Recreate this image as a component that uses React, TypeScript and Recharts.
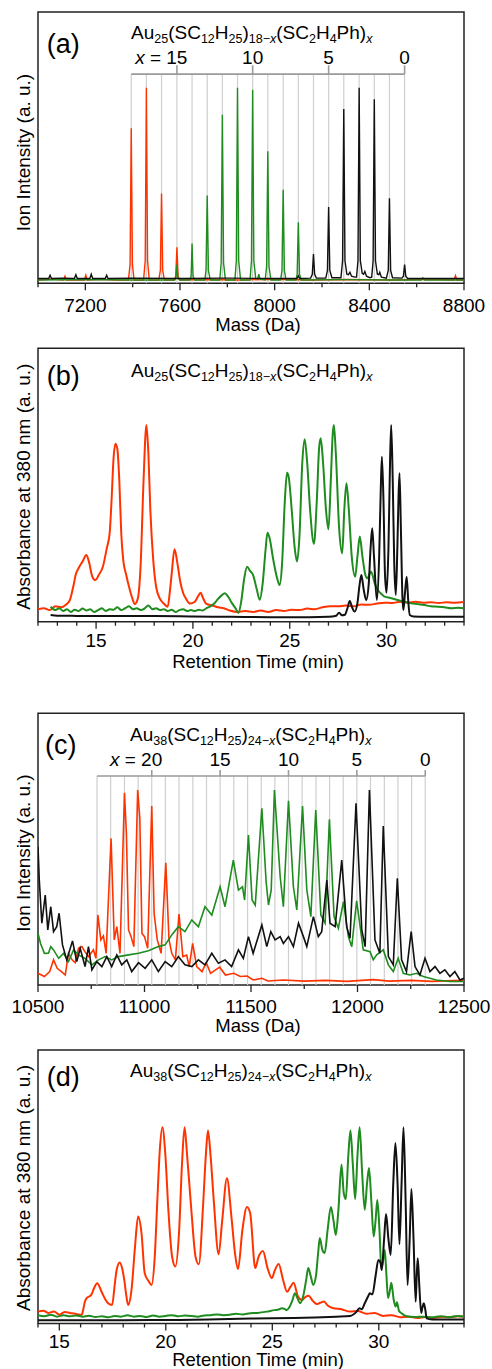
import { LineChart, Line, XAxis, YAxis, ReferenceLine, ReferenceArea, ReferenceDot } from "recharts"

const RED = "#ff3300"
const GREEN = "#1e8c1e"
const BLACK = "#111111"
const FONT = "'Liberation Sans', Arial, Helvetica, sans-serif"
const W = 492

// ---- (a) Au25 mass spectra: [mass (Da), intensity] ----
const aRed: [number, number][] = [
  [7000, 0], [7060, 0.005], [7108, 0], [7114, 0.02], [7120, 0], [7196, 0], [7202, 0.025], [7208, 0],
  [7260, 0.004], [7330, 0], [7382, 0], [7389, 0.08], [7394, 0.79], [7399, 0.08], [7406, 0],
  [7446, 0], [7453, 0.1], [7458, 1.0], [7463, 0.1], [7470, 0], [7510, 0], [7517, 0.05], [7522, 0.45],
  [7527, 0.05], [7534, 0], [7575, 0], [7582, 0.02], [7587, 0.17], [7592, 0.02], [7600, 0],
  [7700, 0.003], [7850, 0], [8000, 0.004], [8150, 0], [8300, 0.003], [8500, 0], [8650, 0.004],
  [8758, 0], [8764, 0.022], [8770, 0], [8800, 0],
]
const aGreen: [number, number][] = [
  [7000, 0], [7200, 0.003], [7400, 0], [7578, 0], [7583, 0.012], [7587, 0.08], [7591, 0.012], [7598, 0],
  [7642, 0], [7647, 0.02], [7651, 0.19], [7655, 0.02], [7662, 0], [7705, 0], [7710, 0.05], [7715, 0.44],
  [7720, 0.05], [7728, 0], [7768, 0], [7774, 0.09], [7779, 0.86], [7784, 0.09], [7792, 0], [7832, 0],
  [7838, 0.1], [7843, 1.0], [7848, 0.1], [7856, 0], [7896, 0], [7902, 0.1], [7907, 0.99], [7912, 0.1],
  [7920, 0.008], [7928, 0.005], [7933, 0.03], [7938, 0.005], [7960, 0], [7966, 0.07], [7971, 0.67],
  [7976, 0.07], [7984, 0], [8025, 0], [8031, 0.05], [8036, 0.47], [8041, 0.05], [8048, 0], [8090, 0],
  [8095, 0.03], [8100, 0.3], [8105, 0.03], [8112, 0], [8300, 0.002], [8500, 0], [8620, 0], [8626, 0.012],
  [8632, 0], [8800, 0],
]
const aBlack: [number, number][] = [
  [7000, 0.008], [7045, 0.008], [7051, 0.025], [7057, 0.008], [7100, 0.01], [7154, 0.008], [7160, 0.028],
  [7166, 0.008], [7219, 0.008], [7225, 0.03], [7231, 0.008], [7284, 0.008], [7290, 0.025], [7296, 0.008],
  [7400, 0.01], [7600, 0.008], [7800, 0.01], [8000, 0.008], [8094, 0.008], [8100, 0.022], [8106, 0.008],
  [8152, 0.01], [8159, 0.03], [8164, 0.135], [8169, 0.03], [8176, 0.01], [8216, 0.01], [8223, 0.05],
  [8228, 0.38], [8233, 0.05], [8242, 0.012], [8280, 0.012], [8287, 0.1], [8292, 0.89], [8297, 0.1],
  [8305, 0.03], [8312, 0.028], [8318, 0.04], [8325, 0.02], [8338, 0.015], [8346, 0.015], [8352, 0.1],
  [8357, 1.0], [8362, 0.1], [8370, 0.035], [8376, 0.03], [8381, 0.045], [8388, 0.02], [8402, 0.012],
  [8410, 0.015], [8416, 0.1], [8421, 0.94], [8426, 0.1], [8434, 0.03], [8440, 0.028], [8444, 0.04],
  [8451, 0.015], [8472, 0.01], [8480, 0.05], [8485, 0.425], [8490, 0.05], [8498, 0.012], [8538, 0.01],
  [8544, 0.02], [8549, 0.08], [8554, 0.02], [8562, 0.008], [8650, 0.008], [8800, 0.008],
]
// mass of each x = 18 ... 0
const aLadder = [7394, 7458, 7522, 7587, 7651, 7715, 7779, 7843, 7907, 7971, 8036, 8100, 8164, 8228, 8292, 8357, 8421, 8485, 8549]
const aLadderLabels: [number, string][] = [[7587, "15"], [7907, "10"], [8228, "5"], [8549, "0"]]
const aTicks = [7000, 7200, 7400, 7600, 7800, 8000, 8200, 8400, 8600, 8800]
const aMajor = [7200, 7600, 8000, 8400, 8800]

// ---- (b) Au25 chromatograms: [time (min), absorbance] ----
const bRed: [number, number][] = [
  [12.0, 0.015], [12.3, 0.02], [12.6, 0.01], [12.9, 0.03], [13.2, 0.025], [13.45, 0.04], [13.65, 0.065],
  [13.85, 0.15], [13.95, 0.2], [14.1, 0.235], [14.3, 0.27], [14.5, 0.305], [14.65, 0.26], [14.8, 0.19],
  [14.95, 0.17], [15.15, 0.2], [15.35, 0.242], [15.55, 0.34], [15.7, 0.42], [15.8, 0.6], [15.9, 0.82],
  [16.0, 0.9], [16.1, 0.87], [16.2, 0.7], [16.3, 0.42], [16.4, 0.28], [16.55, 0.2], [16.7, 0.135],
  [16.85, 0.08], [17.0, 0.043], [17.15, 0.07], [17.3, 0.25], [17.45, 0.7], [17.6, 1.0], [17.7, 0.85],
  [17.8, 0.55], [17.95, 0.28], [18.1, 0.135], [18.3, 0.07], [18.5, 0.045], [18.7, 0.028], [18.8, 0.1],
  [18.9, 0.2], [19.05, 0.335], [19.2, 0.26], [19.35, 0.16], [19.5, 0.1], [19.65, 0.07], [19.85, 0.045],
  [20.1, 0.055], [20.3, 0.09], [20.4, 0.103], [20.5, 0.08], [20.7, 0.043], [21.0, 0.035], [21.3, 0.025],
  [21.6, 0.02], [21.9, 0.008], [22.3, 0.0], [22.7, 0.005], [23.1, 0.0], [23.5, 0.008], [23.9, 0.0],
  [24.3, 0.01], [24.7, 0.005], [25.1, 0.012], [25.5, 0.01], [25.9, 0.018], [26.3, 0.015], [26.7, 0.025],
  [27.1, 0.03], [27.5, 0.03], [27.9, 0.035], [28.3, 0.03], [28.7, 0.04], [29.1, 0.038], [29.5, 0.045],
  [29.9, 0.05], [30.3, 0.048], [30.7, 0.055], [31.1, 0.05], [31.5, 0.055], [31.9, 0.05], [32.3, 0.052],
  [32.7, 0.048], [33.1, 0.052], [33.5, 0.05], [34.0, 0.053],
]
const bGreen: [number, number][] = [
  [12.65, 0.028], [12.9, 0.01], [13.1, 0.02], [13.3, 0.005], [13.5, 0.015], [13.7, 0.0], [13.9, 0.012],
  [14.1, 0.005], [14.3, 0.018], [14.5, 0.008], [14.7, 0.015], [14.9, 0.0], [15.1, 0.01], [15.3, 0.02],
  [15.5, 0.005], [15.7, 0.015], [15.9, 0.012], [16.1, 0.025], [16.3, 0.01], [16.5, 0.02], [16.7, 0.03],
  [16.9, 0.015], [17.1, 0.02], [17.3, 0.01], [17.5, 0.018], [17.7, 0.035], [17.9, 0.015], [18.1, 0.02],
  [18.3, 0.01], [18.5, 0.015], [18.7, 0.005], [18.9, 0.012], [19.1, 0.0], [19.3, 0.01], [19.5, 0.015],
  [19.7, 0.005], [19.9, 0.01], [20.1, 0.005], [20.3, 0.012], [20.5, 0.008], [20.7, 0.02], [20.9, 0.03],
  [21.1, 0.045], [21.3, 0.07], [21.5, 0.09], [21.65, 0.1], [21.8, 0.085], [22.0, 0.05], [22.2, 0.02],
  [22.35, -0.005], [22.5, 0.06], [22.65, 0.18], [22.8, 0.242], [22.95, 0.22], [23.1, 0.2], [23.3, 0.12],
  [23.45, 0.065], [23.6, 0.15], [23.75, 0.33], [23.85, 0.424], [23.95, 0.4], [24.15, 0.28], [24.35, 0.18],
  [24.48, 0.144], [24.6, 0.25], [24.75, 0.6], [24.86, 0.745], [24.95, 0.72], [25.1, 0.55], [25.25, 0.35],
  [25.38, 0.27], [25.5, 0.4], [25.65, 0.8], [25.77, 0.924], [25.9, 0.8], [26.05, 0.55], [26.25, 0.364],
  [26.4, 0.6], [26.52, 0.88], [26.6, 0.929], [26.72, 0.8], [26.87, 0.55], [27.0, 0.442], [27.12, 0.7],
  [27.22, 0.95], [27.28, 1.0], [27.38, 0.85], [27.55, 0.45], [27.71, 0.314], [27.82, 0.55], [27.93, 0.688],
  [28.05, 0.55], [28.2, 0.3], [28.38, 0.189], [28.5, 0.3], [28.62, 0.403], [28.75, 0.3], [28.9, 0.2],
  [29.0, 0.18], [29.2, 0.215], [29.4, 0.15], [29.55, 0.118], [29.75, 0.095], [29.9, 0.082], [30.2, 0.075],
  [30.58, 0.064], [30.9, 0.055], [31.27, 0.046], [31.6, 0.042], [31.96, 0.037], [32.3, 0.03], [32.65, 0.028],
  [33.0, 0.025], [33.34, 0.02], [33.7, 0.022], [34.0, 0.02],
]
const bBlack: [number, number][] = [
  [12.65, -0.016], [13.0, -0.02], [14, -0.021], [16, -0.022], [18, -0.022], [20, -0.024], [22, -0.026],
  [24, -0.028], [26, -0.028], [27.0, -0.026], [27.4, -0.02], [27.55, -0.004], [27.7, -0.018], [27.85, -0.015],
  [27.98, 0.02], [28.1, 0.059], [28.22, 0.025], [28.35, 0.002], [28.5, 0.05], [28.6, 0.14], [28.7, 0.198],
  [28.82, 0.12], [28.95, 0.064], [29.08, 0.15], [29.18, 0.35], [29.26, 0.448], [29.35, 0.3], [29.5, 0.064],
  [29.62, 0.3], [29.7, 0.65], [29.76, 0.83], [29.84, 0.6], [29.92, 0.2], [30.0, 0.103], [30.1, 0.35],
  [30.18, 0.8], [30.24, 1.0], [30.32, 0.7], [30.4, 0.25], [30.48, 0.091], [30.56, 0.35], [30.62, 0.62],
  [30.67, 0.742], [30.74, 0.45], [30.82, 0.08], [30.87, 0.01], [30.95, 0.1], [31.04, 0.189], [31.12, 0.06],
  [31.2, -0.016], [31.4, -0.024], [32, -0.025], [34, -0.025],
]
const bTicks = [12, 13, 14, 15, 16, 17, 18, 19, 20, 21, 22, 23, 24, 25, 26, 27, 28, 29, 30, 31, 32, 33, 34]
const bMajor = [15, 20, 25, 30]

// ---- (c) Au38 mass spectra ----
const cRed: [number, number][] = [
  [10500, 0.045], [10530, 0.028], [10555, 0.054], [10573, 0.115], [10590, 0.071], [10610, 0.054],
  [10628, 0.036], [10643, 0.149], [10660, 0.115], [10675, 0.1], [10690, 0.175], [10706, 0.184],
  [10720, 0.158], [10737, 0.132], [10760, 0.167], [10772, 0.123], [10781, 0.349], [10795, 0.219],
  [10807, 0.24], [10820, 0.149], [10843, 0.748], [10858, 0.219], [10870, 0.288], [10885, 0.149],
  [10906, 0.986], [10915, 0.774], [10925, 0.271], [10937, 0.236], [10950, 0.184], [10968, 1.0],
  [10978, 0.853], [10988, 0.253], [11000, 0.236], [11015, 0.175], [11034, 0.917], [11045, 0.358],
  [11060, 0.219], [11078, 0.149], [11100, 0.621], [11115, 0.22], [11128, 0.149], [11145, 0.115],
  [11162, 0.354], [11180, 0.132], [11198, 0.14], [11210, 0.08], [11226, 0.201], [11245, 0.08],
  [11270, 0.054], [11290, 0.1], [11310, 0.045], [11353, 0.077], [11380, 0.036], [11419, 0.045],
  [11450, 0.028], [11482, 0.031], [11510, 0.01], [11551, 0.019], [11580, 0.005], [11650, 0.01],
  [11750, 0.004], [11850, 0.008], [11950, 0.003], [12074, 0.012], [12150, 0.004], [12250, 0.008],
  [12350, 0.003], [12450, 0.007], [12500, 0.008],
]
const cGreen: [number, number][] = [
  [10500, 0.254], [10512, 0.2], [10530, 0.149], [10549, 0.15], [10560, 0.184], [10573, 0.167],
  [10597, 0.123], [10620, 0.149], [10643, 0.106], [10667, 0.167], [10690, 0.141], [10721, 0.123],
  [10753, 0.089], [10784, 0.115], [10815, 0.132], [10846, 0.115], [10878, 0.132], [10925, 0.141],
  [10972, 0.149], [11018, 0.163], [11065, 0.184], [11097, 0.193], [11128, 0.245], [11159, 0.288],
  [11190, 0.262], [11222, 0.323], [11253, 0.288], [11284, 0.392], [11316, 0.349], [11355, 0.496],
  [11378, 0.392], [11417, 0.635], [11441, 0.479], [11460, 0.496], [11470, 0.427], [11488, 0.766],
  [11505, 0.427], [11520, 0.4], [11551, 0.905], [11571, 0.522], [11582, 0.401], [11595, 0.479],
  [11610, 1.0], [11637, 0.548], [11652, 0.392], [11676, 0.944], [11699, 0.496], [11715, 0.375],
  [11742, 0.917], [11762, 0.479], [11781, 0.34], [11804, 0.896], [11828, 0.349], [11848, 0.306],
  [11868, 0.847], [11890, 0.34], [11910, 0.28], [11934, 0.418], [11957, 0.236], [11973, 0.184],
  [11996, 0.423], [12027, 0.167], [12059, 0.158], [12074, 0.115], [12090, 0.141], [12121, 0.167],
  [12145, 0.089], [12168, 0.054], [12191, 0.123], [12215, 0.045], [12246, 0.036], [12278, 0.045],
  [12309, 0.028], [12340, 0.019], [12371, 0.01], [12434, 0.002], [12500, 0.002],
]
const cBlack: [number, number][] = [
  [10500, 0.705], [10506, 0.531], [10518, 0.306], [10534, 0.453], [10546, 0.271], [10560, 0.392],
  [10573, 0.262], [10588, 0.288], [10599, 0.358], [10615, 0.193], [10635, 0.115], [10662, 0.214],
  [10682, 0.106], [10698, 0.175], [10721, 0.08], [10737, 0.184], [10753, 0.063], [10776, 0.106],
  [10800, 0.08], [10823, 0.132], [10846, 0.08], [10870, 0.141], [10893, 0.089], [10917, 0.115],
  [10940, 0.054], [10972, 0.1], [11003, 0.071], [11034, 0.115], [11065, 0.054], [11097, 0.106],
  [11128, 0.08], [11159, 0.132], [11190, 0.089], [11222, 0.08], [11253, 0.115], [11284, 0.089],
  [11316, 0.149], [11347, 0.097], [11378, 0.115], [11409, 0.08], [11441, 0.167], [11464, 0.123],
  [11488, 0.236], [11510, 0.149], [11551, 0.297], [11574, 0.184], [11593, 0.262], [11613, 0.219],
  [11637, 0.236], [11652, 0.201], [11676, 0.236], [11699, 0.184], [11723, 0.306], [11746, 0.236],
  [11762, 0.184], [11793, 0.34], [11816, 0.236], [11832, 0.262], [11856, 0.531], [11871, 0.306],
  [11895, 0.288], [11926, 0.635], [11949, 0.288], [11965, 0.228], [11993, 0.931], [12020, 0.271],
  [12036, 0.184], [12056, 1.0], [12082, 0.219], [12105, 0.149], [12121, 0.813], [12145, 0.132],
  [12168, 0.089], [12187, 0.54], [12207, 0.115], [12230, 0.054], [12252, 0.262], [12270, 0.08],
  [12293, 0.036], [12317, 0.123], [12340, 0.054], [12364, 0.08], [12387, 0.045], [12410, 0.063],
  [12434, 0.028], [12457, 0.054], [12481, 0.01], [12500, 0.019],
]
// mass of each x = 24 ... 0
const cLadder = [10777, 10841, 10906, 10970, 11034, 11098, 11162, 11227, 11291, 11355, 11419, 11484, 11548,
  11612, 11676, 11740, 11805, 11869, 11933, 11997, 12061, 12126, 12190, 12254, 12318]
const cLadderLabels: [number, string][] = [[11034, "20"], [11355, "15"], [11676, "10"], [11997, "5"], [12318, "0"]]
const cTicks = [10500, 10750, 11000, 11250, 11500, 11750, 12000, 12250, 12500]
const cMajor = [10500, 11000, 11500, 12000, 12500]

// ---- (d) Au38 chromatograms ----
const dRed: [number, number][] = [
  [14.0, 0.007], [14.25, 0.012], [14.5, 0.0], [14.75, 0.008], [15.0, -0.01], [15.25, 0.005], [15.5, 0.0],
  [15.75, -0.005], [16.05, -0.01], [16.12, 0.016], [16.2, 0.06], [16.28, 0.079], [16.5, 0.097], [16.62, 0.13],
  [16.78, 0.16], [16.98, 0.115], [17.15, 0.075], [17.29, 0.052], [17.48, 0.043], [17.6, 0.15], [17.69, 0.23],
  [17.84, 0.271], [17.95, 0.24], [18.05, 0.178], [18.15, 0.09], [18.23, 0.043], [18.39, 0.124], [18.55, 0.35],
  [18.7, 0.519], [18.86, 0.429], [19.01, 0.214], [19.2, 0.17], [19.33, 0.151], [19.48, 0.3], [19.6, 0.6],
  [19.72, 0.88], [19.84, 1.0], [19.98, 0.85], [20.12, 0.555], [20.3, 0.3], [20.45, 0.25], [20.62, 0.43],
  [20.76, 0.8], [20.88, 1.0], [21.0, 0.85], [21.21, 0.537], [21.4, 0.3], [21.55, 0.262], [21.76, 0.6],
  [21.88, 0.85], [21.98, 0.982], [22.1, 0.85], [22.25, 0.609], [22.48, 0.316], [22.65, 0.5], [22.87, 0.725],
  [23.08, 0.519], [23.25, 0.32], [23.39, 0.236], [23.6, 0.45], [23.81, 0.57], [23.96, 0.538], [24.2, 0.242],
  [24.35, 0.3], [24.56, 0.333], [24.78, 0.24], [24.98, 0.187], [25.12, 0.23], [25.3, 0.263], [25.5, 0.18],
  [25.7, 0.114], [25.85, 0.14], [26.0, 0.162], [26.2, 0.09], [26.4, 0.07], [26.55, 0.085], [26.7, 0.092],
  [26.9, 0.065], [27.09, 0.048], [27.25, 0.055], [27.43, 0.061], [27.6, 0.04], [27.87, 0.025], [28.25, 0.02],
  [28.65, 0.007], [29.0, 0.01], [29.43, -0.005], [29.8, 0.0], [30.2, -0.016], [30.6, -0.012], [31.0, -0.023],
  [31.4, -0.02], [31.8, -0.028], [32.2, -0.022], [32.56, -0.028], [33.0, -0.02], [33.35, -0.023],
  [33.7, -0.018], [34.0, -0.02],
]
const dGreen: [number, number][] = [
  [14.0, -0.012], [14.3, -0.018], [14.6, -0.01], [14.9, -0.02], [15.2, -0.012], [15.5, -0.018], [15.8, -0.014],
  [16.1, -0.02], [16.4, -0.015], [16.7, -0.022], [17.0, -0.018], [17.3, -0.024], [17.6, -0.016], [17.9, -0.02],
  [18.2, -0.012], [18.5, -0.02], [18.8, -0.016], [19.1, -0.022], [19.4, -0.014], [19.7, -0.02], [20.0, -0.016],
  [20.3, -0.012], [20.6, -0.018], [20.9, -0.014], [21.2, -0.016], [21.5, -0.02], [21.8, -0.014], [22.1, -0.012],
  [22.4, -0.008], [22.7, -0.012], [23.0, -0.01], [23.3, -0.005], [23.6, -0.008], [23.96, -0.002], [24.3, 0.0],
  [24.74, 0.007], [25.1, 0.015], [25.3, 0.018], [25.45, 0.025], [25.6, 0.02], [25.67, 0.015], [25.8, 0.03],
  [25.95, 0.07], [26.06, 0.106], [26.18, 0.08], [26.3, 0.052], [26.45, 0.09], [26.58, 0.17], [26.69, 0.242],
  [26.8, 0.2], [26.92, 0.151], [27.05, 0.2], [27.15, 0.32], [27.23, 0.404], [27.35, 0.34], [27.46, 0.323],
  [27.6, 0.45], [27.75, 0.571], [27.87, 0.5], [27.98, 0.42], [28.1, 0.55], [28.25, 0.8], [28.35, 0.65],
  [28.45, 0.613], [28.57, 0.85], [28.67, 0.982], [28.78, 0.8], [28.89, 0.613], [29.0, 0.85], [29.1, 1.0],
  [29.22, 0.75], [29.34, 0.555], [29.45, 0.7], [29.54, 0.781], [29.65, 0.6], [29.76, 0.411], [29.85, 0.5],
  [29.93, 0.608], [30.03, 0.45], [30.12, 0.242], [30.2, 0.28], [30.28, 0.339], [30.36, 0.2], [30.43, 0.08],
  [30.52, 0.12], [30.59, 0.162], [30.7, 0.07], [30.79, 0.034], [30.85, 0.058], [30.95, 0.01], [31.05, 0.0],
  [31.3, -0.018], [31.7, -0.022], [32.1, -0.02], [32.5, -0.024], [32.9, -0.018], [33.3, -0.022], [33.7, -0.016],
  [34.0, -0.02],
]
const dBlack: [number, number][] = [
  [14.0, -0.04], [16, -0.04], [18, -0.04], [20, -0.038], [22, -0.036], [24, -0.03], [26, -0.028], [27, -0.025],
  [28, -0.02], [28.65, -0.016], [28.96, 0.007], [29.1, 0.025], [29.2, 0.02], [29.34, 0.052], [29.5, 0.09],
  [29.58, 0.106], [29.7, 0.1], [29.85, 0.2], [29.98, 0.285], [30.08, 0.27], [30.14, 0.231], [30.25, 0.4],
  [30.34, 0.533], [30.45, 0.4], [30.56, 0.312], [30.68, 0.7], [30.78, 0.915], [30.88, 0.7], [30.97, 0.37],
  [31.07, 0.7], [31.16, 1.0], [31.26, 0.6], [31.35, 0.151], [31.45, 0.4], [31.53, 0.668], [31.63, 0.4],
  [31.73, 0.06], [31.78, 0.2], [31.83, 0.295], [31.9, 0.15], [31.99, 0.0], [32.05, 0.03], [32.11, 0.052],
  [32.18, 0.02], [32.25, -0.029], [32.5, -0.035], [33, -0.036], [34, -0.036],
]
const dTicks = [14, 15, 16, 17, 18, 19, 20, 21, 22, 23, 24, 25, 26, 27, 28, 29, 30, 31, 32, 33, 34]
const dMajor = [15, 20, 25, 30]

const toRows = (pts: [number, number][]) => pts.map(([x, y]) => ({ x, y }))

function makeTick(majors: number[], labelDy: number) {
  return (props: any) => {
    const { x, y, payload } = props
    const major = majors.includes(payload.value)
    return (
      <g>
        <line x1={x} x2={x} y1={y} y2={y + (major ? 7 : 4)} stroke="#222" strokeWidth={1.3} />
        {major && (
          <text x={x} y={y + labelDy} textAnchor="middle" fontSize={19} fill="#000">
            {payload.value}
          </text>
        )}
      </g>
    )
  }
}

function ladderLabel(text: string, first: boolean) {
  return (props: any) => {
    const vb = props.viewBox || {}
    const x = vb.x + (vb.width || 0) / 2
    const y = vb.y + (vb.height || 0) / 2
    if (first) {
      return (
        <text x={x + 10.5} y={y} textAnchor="end" fontSize={19} fill="#000">
          <tspan fontStyle="italic">x</tspan> = {text}
        </text>
      )
    }
    return (
      <text x={x} y={y} textAnchor="middle" fontSize={19} fill="#000">
        {text}
      </text>
    )
  }
}

interface Ladder {
  masses: number[]
  labels: [number, string][]
  bar: number
  tickTop: number
  labelY: number
}

interface PanelProps {
  top: number
  height: number
  mt: number
  mb: number
  xDomain: [number, number]
  yDomain: [number, number]
  ticks: number[]
  majors: number[]
  tickDy: number
  series: { pts: [number, number][]; color: string }[]
  curve: "linear" | "monotone"
  strokeWidth: number
  ladder?: Ladder
}

function Panel(p: PanelProps) {
  const [x0, x1] = p.xDomain
  const [y0, y1] = p.yDomain
  const lad = p.ladder
  return (
    <div style={{ position: "absolute", left: 0, top: p.top }}>
      <LineChart width={W} height={p.height} margin={{ top: p.mt, right: 28, bottom: p.mb, left: 38 }}>
        <XAxis
          dataKey="x"
          type="number"
          domain={p.xDomain}
          ticks={p.ticks}
          interval={0}
          allowDataOverflow
          axisLine={false}
          tickLine={false}
          tickSize={0}
          tickMargin={0}
          height={25}
          tick={makeTick(p.majors, p.tickDy)}
        />
        <YAxis type="number" domain={p.yDomain} hide allowDataOverflow />
        {lad &&
          lad.masses.map((m) => (
            <ReferenceLine key={`g${m}`} segment={[{ x: m, y: y0 }, { x: m, y: lad.bar }]} stroke="#cfcfcf" strokeWidth={1.2} />
          ))}
        {lad && (
          <ReferenceLine
            segment={[{ x: lad.masses[0], y: lad.bar }, { x: lad.masses[lad.masses.length - 1], y: lad.bar }]}
            stroke="#9a9a9a"
            strokeWidth={1.6}
          />
        )}
        {lad &&
          lad.labels.map(([m]) => (
            <ReferenceLine key={`t${m}`} segment={[{ x: m, y: lad.bar }, { x: m, y: lad.tickTop }]} stroke="#9a9a9a" strokeWidth={1.6} />
          ))}
        {lad &&
          lad.labels.map(([m, t], i) => (
            <ReferenceDot key={`l${m}`} x={m} y={lad.labelY} r={0} fill="none" stroke="none" label={ladderLabel(t, i === 0)} />
          ))}
        {p.series.map((s, i) => (
          <Line
            key={i}
            data={toRows(s.pts)}
            dataKey="y"
            type={p.curve}
            stroke={s.color}
            strokeWidth={p.strokeWidth}
            dot={false}
            activeDot={false}
            isAnimationActive={false}
          />
        ))}
        <ReferenceArea x1={x0} x2={x1} y1={y0} y2={y1} fill="none" fillOpacity={0} stroke="#222" strokeWidth={1.5} />
      </LineChart>
    </div>
  )
}

function Formula({ x, y, n, m }: { x: number; y: number; n: string; m: string }) {
  const s = 12.5
  const d = 4
  return (
    <text x={x} y={y} fontSize={19} fill="#000">
      Au<tspan fontSize={s} dy={d}>{n}</tspan>
      <tspan dy={-d}>(SC</tspan>
      <tspan fontSize={s} dy={d}>12</tspan>
      <tspan dy={-d}>H</tspan>
      <tspan fontSize={s} dy={d}>25</tspan>
      <tspan dy={-d}>)</tspan>
      <tspan fontSize={s} dy={d}>{m}−</tspan>
      <tspan fontSize={s} fontStyle="italic">x</tspan>
      <tspan dy={-d}>(SC</tspan>
      <tspan fontSize={s} dy={d}>2</tspan>
      <tspan dy={-d}>H</tspan>
      <tspan fontSize={s} dy={d}>4</tspan>
      <tspan dy={-d}>Ph)</tspan>
      <tspan fontSize={s} dy={d} fontStyle="italic">x</tspan>
    </text>
  )
}

function YTitle({ cy, text }: { cy: number; text: string }) {
  return (
    <text x={30} y={cy} transform={`rotate(-90, 30, ${cy})`} textAnchor="middle" fontSize={19} fill="#000">
      {text}
    </text>
  )
}

export default function App() {
  return (
    <div style={{ position: "absolute", left: 0, top: 0, width: W, height: 1369, background: "#fff", fontFamily: FONT }}>
      <Panel
        top={0} height={330} mt={12} mb={21.7}
        xDomain={[7000, 8800]} yDomain={[-0.017, 1.394]}
        ticks={aTicks} majors={aMajor} tickDy={28.5}
        series={[{ pts: aRed, color: RED }, { pts: aGreen, color: GREEN }, { pts: aBlack, color: BLACK }]}
        curve="linear" strokeWidth={1.4}
        ladder={{ masses: aLadder, labels: aLadderLabels, bar: 1.071, tickTop: 1.117, labelY: 1.123 }}
      />
      <Panel
        top={330} height={360} mt={18.3} mb={43.3}
        xDomain={[12, 34]} yDomain={[-0.052, 1.41]}
        ticks={bTicks} majors={bMajor} tickDy={25}
        series={[{ pts: bRed, color: RED }, { pts: bGreen, color: GREEN }, { pts: bBlack, color: BLACK }]}
        curve="monotone" strokeWidth={2}
      />
      <Panel
        top={690} height={340} mt={23.3} mb={20}
        xDomain={[10500, 12500]} yDomain={[-0.016, 1.4]}
        ticks={cTicks} majors={cMajor} tickDy={28}
        series={[{ pts: cRed, color: RED }, { pts: cGreen, color: GREEN }, { pts: cBlack, color: BLACK }]}
        curve="linear" strokeWidth={1.6}
        ladder={{ masses: cLadder, labels: cLadderLabels, bar: 1.073, tickTop: 1.104, labelY: 1.125 }}
      />
      <Panel
        top={1030} height={339} mt={20} mb={20.5}
        xDomain={[14, 34]} yDomain={[-0.057, 1.416]}
        ticks={dTicks} majors={dMajor} tickDy={24}
        series={[{ pts: dRed, color: RED }, { pts: dGreen, color: GREEN }, { pts: dBlack, color: BLACK }]}
        curve="monotone" strokeWidth={2}
      />
      <svg width={W} height={1369} style={{ position: "absolute", left: 0, top: 0, pointerEvents: "none" }}>
        <text x={46.7} y={53.4} fontSize={27} fill="#000">(a)</text>
        <text x={46.7} y={384.8} fontSize={27} fill="#000">(b)</text>
        <text x={45} y={754.3} fontSize={27} fill="#000">(c)</text>
        <text x={46.7} y={1086} fontSize={27} fill="#000">(d)</text>
        <Formula x={131} y={39.3} n="25" m="18" />
        <Formula x={131} y={376.7} n="25" m="18" />
        <Formula x={130} y={740.7} n="38" m="24" />
        <Formula x={130} y={1077.3} n="38" m="24" />
        <YTitle cy={152.5} text="Ion Intensity (a. u.)" />
        <YTitle cy={486.7} text="Absorbance at 380 nm (a. u.)" />
        <YTitle cy={853} text="Ion Intensity (a. u.)" />
        <YTitle cy={1188} text="Absorbance at 380 nm (a. u.)" />
        <text x={258} y={331} textAnchor="middle" fontSize={18.5} fill="#000">Mass (Da)</text>
        <text x={258} y={668} textAnchor="middle" fontSize={18.5} fill="#000">Retention Time (min)</text>
        <text x={258} y={1032} textAnchor="middle" fontSize={18.5} fill="#000">Mass (Da)</text>
        <text x={258} y={1366} textAnchor="middle" fontSize={18.5} fill="#000">Retention Time (min)</text>
      </svg>
    </div>
  )
}
